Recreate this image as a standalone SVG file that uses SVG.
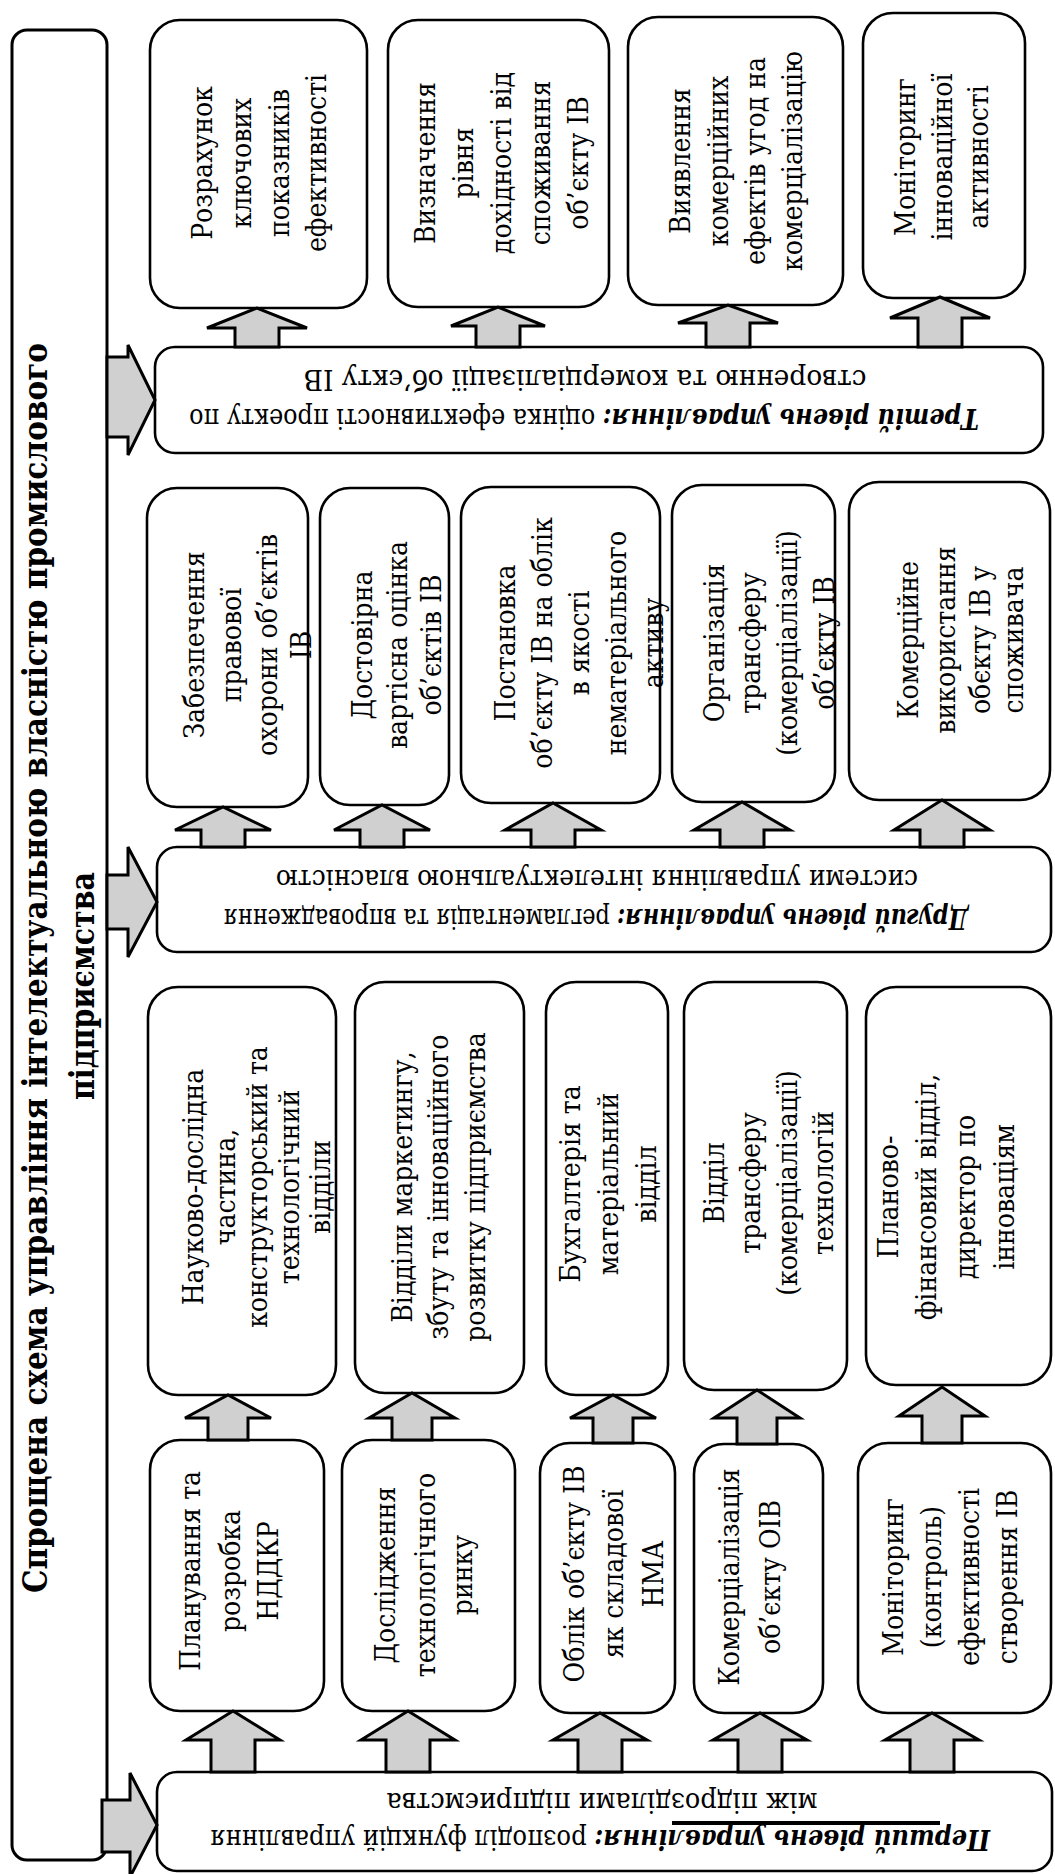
<svg xmlns="http://www.w3.org/2000/svg" width="1055" height="1874" viewBox="0 0 1055 1874" font-family="'DejaVu Serif', serif">
<style>
.box{fill:#fff;stroke:#000;stroke-width:2.6}
.arr{fill:#d0d0d0;stroke:#000;stroke-width:3;stroke-linejoin:miter}
text{font-family:'DejaVu Serif',serif}
.t{font-size:28px;text-anchor:middle}
.lv{font-size:27px;text-anchor:middle}
.bi{font-weight:bold;font-style:italic}
.title{font-size:33px;font-weight:bold;text-anchor:middle}
</style>
<rect x="0" y="0" width="1055" height="1874" fill="#fff"/>

<g id="title">
<rect class="box" x="12" y="30" width="95" height="1830" rx="15" style="stroke-width:3"/>
<g transform="translate(0,968) rotate(-90)"><text class="title" x="0" y="47" textLength="1250" lengthAdjust="spacingAndGlyphs">Спрощена схема управління інтелектуальною власністю промислового</text></g>
<g transform="translate(0,986) rotate(-90)"><text class="title" x="0" y="94" textLength="228" lengthAdjust="spacingAndGlyphs">підприємства</text></g>
</g>

<g id="t1"><rect class="box" x="150" y="20" width="217" height="288" rx="30"/>
<g transform="translate(0,163) rotate(-90) scale(0.9,1)" class="t"><text y="212">Розрахунок</text><text y="251">ключових</text><text y="289">показників</text><text y="326">ефективності</text></g></g>
<g id="t2"><rect class="box" x="388" y="20" width="221" height="287" rx="30"/>
<g transform="translate(0,163) rotate(-90) scale(0.9,1)" class="t"><text y="435">Визначення</text><text y="473">рівня</text><text y="511">дохідності від</text><text y="550">споживання</text><text y="588">об’єкту ІВ</text></g></g>
<g id="t3"><rect class="box" x="628" y="17" width="215" height="288" rx="30"/>
<g transform="translate(0,161) rotate(-90) scale(0.9,1)" class="t"><text y="690">Виявлення</text><text y="728">комерційних</text><text y="765">ефектів угод на</text><text y="802">комерціалізацію</text></g></g>
<g id="t4"><rect class="box" x="863" y="13" width="162" height="285" rx="30"/>
<g transform="translate(0,157) rotate(-90) scale(0.9,1)" class="t"><text y="915">Моніторинг</text><text y="952">інноваційної</text><text y="988">активності</text></g></g>

<g id="level3"><rect class="box" x="155" y="347" width="888" height="106" rx="20"/>
<text class="lv" x="584" y="409" transform="rotate(180 584 409)" textLength="790" lengthAdjust="spacingAndGlyphs"><tspan class="bi">Третій рівень управління:</tspan> оцінка ефективності проекту по</text>
<text class="lv" x="585" y="370" transform="rotate(180 585 370)" textLength="563" lengthAdjust="spacingAndGlyphs">створенню та комерціалізації  об’єкту ІВ</text></g>

<g id="m1"><rect class="box" x="147" y="488" width="161" height="319" rx="30"/>
<g transform="translate(0,645) rotate(-90) scale(0.9,1)" class="t"><text y="204">Забезпечення</text><text y="241">правової</text><text y="277">охорони об’єктів</text><text y="311">ІВ</text></g></g>
<g id="m2"><rect class="box" x="320" y="488" width="129" height="317" rx="30"/>
<g transform="translate(0,645) rotate(-90) scale(0.9,1)" class="t"><text y="372">Достовірна</text><text y="407">вартісна оцінка</text><text y="441">об’єктів ІВ</text></g></g>
<g id="m3"><rect class="box" x="461" y="487" width="199" height="316" rx="30"/>
<g transform="translate(0,643) rotate(-90) scale(0.9,1)" class="t"><text y="515">Постановка</text><text y="552">об’єкту ІВ на облік</text><text y="589">в якості</text><text y="626">нематеріального</text><text y="663">активу</text></g></g>
<g id="m4"><rect class="box" x="672" y="485" width="163" height="317" rx="30"/>
<g transform="translate(0,643) rotate(-90) scale(0.9,1)" class="t"><text y="724">Організація</text><text y="760">трансферу</text><text y="797">(комерціалізації)</text><text y="834">об’єкту ІВ</text></g></g>
<g id="m5"><rect class="box" x="849" y="482" width="201" height="318" rx="30"/>
<g transform="translate(0,640) rotate(-90) scale(0.9,1)" class="t"><text y="918">Комерційне</text><text y="955">використання</text><text y="990">обєкту ІВ у</text><text y="1023">споживача</text></g></g>

<g id="level2"><rect class="box" x="157" y="847" width="894" height="105" rx="20"/>
<text class="lv" x="596" y="909" transform="rotate(180 596 909)" textLength="745" lengthAdjust="spacingAndGlyphs"><tspan class="bi">Другий рівень управління:</tspan> регламентація та впровадження</text>
<text class="lv" x="597" y="870" transform="rotate(180 597 870)" textLength="642" lengthAdjust="spacingAndGlyphs">системи управління інтелектуальною власністю</text></g>

<g id="d1"><rect class="box" x="148" y="987" width="188" height="408" rx="30"/>
<g transform="translate(0,1187) rotate(-90) scale(0.9,1)" class="t"><text y="203">Науково-дослідна</text><text y="235">частина,</text><text y="267">конструкторський та</text><text y="299">технологічний</text><text y="330">відділи</text></g></g>
<g id="d2"><rect class="box" x="355" y="982" width="169" height="411" rx="30"/>
<g transform="translate(0,1187) rotate(-90) scale(0.9,1)" class="t"><text y="412">Відділи маркетингу,</text><text y="448">збуту та інноваційного</text><text y="485">розвитку підприємства</text></g></g>
<g id="d3"><rect class="box" x="546" y="982" width="122" height="413" rx="30"/>
<g transform="translate(0,1184) rotate(-90) scale(0.9,1)" class="t"><text y="580">Бухгалтерія та</text><text y="618">матеріальний</text><text y="656">відділ</text></g></g>
<g id="d4"><rect class="box" x="684" y="982" width="163" height="408" rx="30"/>
<g transform="translate(0,1183) rotate(-90) scale(0.9,1)" class="t"><text y="724">Відділ</text><text y="760">трансферу</text><text y="797">(комерціалізації)</text><text y="833">технологій</text></g></g>
<g id="d5"><rect class="box" x="866" y="987" width="185" height="398" rx="30"/>
<g transform="translate(0,1197) rotate(-90) scale(0.9,1)" class="t"><text y="898">Планово-</text><text y="936">фінансовий відділ,</text><text y="975">директор по</text><text y="1014">інноваціям</text></g></g>

<g id="b1"><rect class="box" x="150" y="1440" width="174" height="271" rx="30"/>
<g transform="translate(0,1571) rotate(-90) scale(0.9,1)" class="t"><text y="200">Планування та</text><text y="240">розробка</text><text y="278">НДДКР</text></g></g>
<g id="b2"><rect class="box" x="342" y="1440" width="173" height="271" rx="30"/>
<g transform="translate(0,1575) rotate(-90) scale(0.9,1)" class="t"><text y="395">Дослідження</text><text y="435">технологічного</text><text y="472">ринку</text></g></g>
<g id="b3"><rect class="box" x="540" y="1443" width="135" height="270" rx="30"/>
<g transform="translate(0,1574) rotate(-90) scale(0.9,1)" class="t"><text y="584">Облік об’єкту ІВ</text><text y="623">як складової</text><text y="663">НМА</text></g></g>
<g id="b4"><rect class="box" x="694" y="1444" width="129" height="269" rx="30"/>
<g transform="translate(0,1577) rotate(-90) scale(0.9,1)" class="t"><text y="739">Комерціалізація</text><text y="780">об’єкту ОІВ</text></g></g>
<g id="b5"><rect class="box" x="858" y="1443" width="193" height="270" rx="30"/>
<g transform="translate(0,1577) rotate(-90) scale(0.9,1)" class="t"><text y="903">Моніторинг</text><text y="941">(контроль)</text><text y="979">ефективності</text><text y="1017">створення ІВ</text></g></g>

<g id="level1"><rect class="box" x="157" y="1772" width="895" height="99" rx="20"/>
<text class="lv" x="600" y="1830" transform="rotate(180 600 1830)" textLength="780" lengthAdjust="spacingAndGlyphs"><tspan class="bi">Перший рівень управління:</tspan> розподіл функцій управління</text>
<text class="lv" x="602" y="1793" transform="rotate(180 602 1793)" textLength="431" lengthAdjust="spacingAndGlyphs">між підрозділами підприємства</text>
<rect x="672" y="1821" width="268" height="4" fill="#000"/></g>

<g id="connectors">
<path class="arr" d="M107,357 L128,357 L128,345 L155,400 L128,455 L128,437 L107,437 Z"/>
<path class="arr" d="M107,875 L128,875 L128,847 L157,902 L128,957 L128,929 L107,929 Z"/>
<path class="arr" d="M102,1800 L130,1800 L130,1773 L157,1825 L130,1877 L130,1852 L102,1852 Z"/>

<path class="arr" d="M235,347 L235,328 L207,328 L257,308 L307,328 L279,328 L279,347 Z"/>
<path class="arr" d="M476,347 L476,326 L451,326 L498,307 L545,326 L520,326 L520,347 Z"/>
<path class="arr" d="M706,347 L706,323 L678,323 L728,305 L778,323 L750,323 L750,347 Z"/>
<path class="arr" d="M918,347 L918,318 L890,318 L940,297 L990,318 L962,318 L962,347 Z"/>

<path class="arr" d="M201,847 L201,830 L175,830 L223,807 L271,830 L245,830 L245,847 Z"/>
<path class="arr" d="M360,847 L360,830 L334,830 L382,805 L430,830 L404,830 L404,847 Z"/>
<path class="arr" d="M531,847 L531,830 L505,830 L553,803 L601,830 L575,830 L575,847 Z"/>
<path class="arr" d="M720,847 L720,830 L694,830 L742,802 L790,830 L764,830 L764,847 Z"/>
<path class="arr" d="M920,847 L920,830 L894,830 L942,800 L990,830 L964,830 L964,847 Z"/>

<path class="arr" d="M208,1440 L208,1418 L185,1418 L228,1395 L271,1418 L248,1418 L248,1440 Z"/>
<path class="arr" d="M392,1440 L392,1418 L369,1418 L412,1393 L455,1418 L432,1418 L432,1440 Z"/>
<path class="arr" d="M593,1443 L593,1418 L570,1418 L613,1395 L656,1418 L633,1418 L633,1443 Z"/>
<path class="arr" d="M737,1444 L737,1418 L714,1418 L757,1390 L800,1418 L777,1418 L777,1444 Z"/>
<path class="arr" d="M922,1443 L922,1416 L899,1416 L942,1387 L985,1416 L962,1416 L962,1443 Z"/>

<path class="arr" d="M211,1772 L211,1740 L186,1740 L233,1711 L280,1740 L255,1740 L255,1772 Z"/>
<path class="arr" d="M386,1772 L386,1740 L361,1740 L408,1711 L455,1740 L430,1740 L430,1772 Z"/>
<path class="arr" d="M578,1772 L578,1740 L553,1740 L600,1713 L647,1740 L622,1740 L622,1772 Z"/>
<path class="arr" d="M738,1772 L738,1740 L713,1740 L760,1713 L807,1740 L782,1740 L782,1772 Z"/>
<path class="arr" d="M910,1772 L910,1740 L885,1740 L932,1713 L979,1740 L954,1740 L954,1772 Z"/>
</g>
</svg>
